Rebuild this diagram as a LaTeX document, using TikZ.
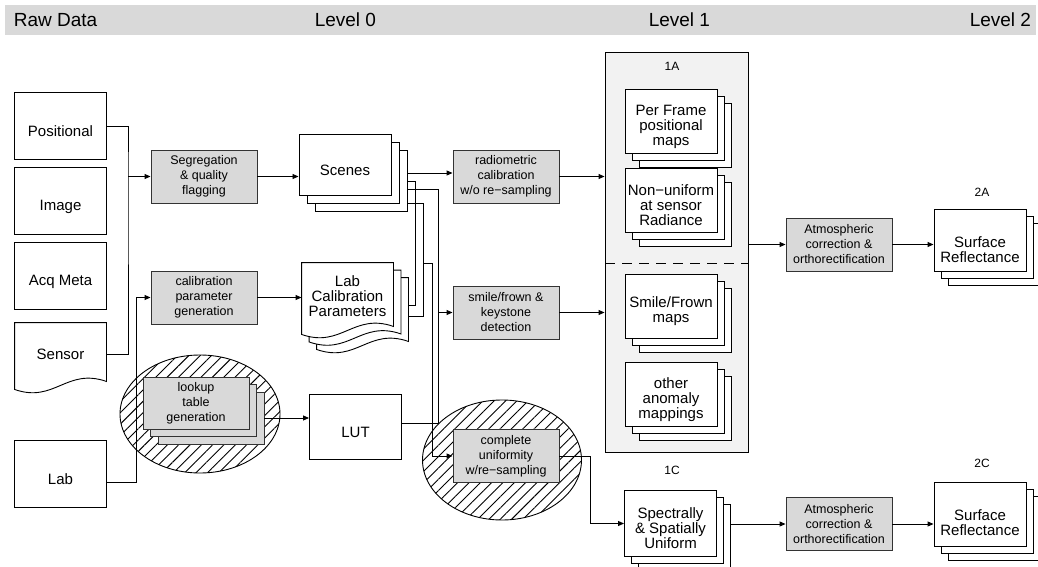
\documentclass[tikz,border=0pt]{standalone}
\usepackage{fontspec}
\setmainfont{Liberation Sans}
\usetikzlibrary{shapes.geometric,arrows.meta,patterns.meta,backgrounds}

\newcommand{\docoutline}[1]{%
  \draw[fill=white, line width=0.9pt] (#1.north west) -- (#1.north east) -- ([yshift=4pt]#1.south east)
    .. controls +(-40,-14) and +(40,14) .. ([yshift=-4pt]#1.south west) -- cycle;}

\begin{document}
\begin{tikzpicture}[x=1pt, y=-1pt, line width=0.9pt, >={Triangle[length=6pt,width=5pt]},
  every node/.style={font=\fontsize{15}{15}\selectfont, align=center}]
\tikzset{
  store/.style={cylinder, shape border rotate=90, aspect=0.2, draw, fill=white,
    minimum width=92, minimum height=64, inner sep=0pt},
  storetext/.style={yshift=-5pt, inner sep=0pt},
  proc/.style={rectangle, draw=black!80, fill=black!15, minimum width=106,
    minimum height=53, inner sep=1pt, font=\fontsize{12.5}{15}\selectfont},
  doc/.style={rectangle, minimum width=91, inner sep=1pt},
  hatch/.style={ellipse, draw, pattern={Lines[angle=45,distance=8pt,line width=0.9pt]}},
  hdr/.style={anchor=base west, font=\fontsize{19}{19}\selectfont},
  tag/.style={font=\fontsize{12}{12}\selectfont}
}
\useasboundingbox (0,0) rectangle (1038,567);
\fill[black!15] (5,5) rectangle (1036,35);
\node[hdr] (raw) at (10,27) {Raw Data};
\node[hdr] (lvl0) at (311,27) {Level 0};
\node[hdr] (lvl1) at (645,27) {Level 1};
\node[hdr] (lvl2) at (966,27) {Level 2};

\node[store, minimum height=67] (positional) at (60.5,126.5) {};
\node[storetext] (positionalT) at (positional) {Positional};
\node[store, minimum height=67] (image) at (60.5,201.5) {};
\node[storetext] (imageT) at (image) {Image};
\node[store, minimum height=67] (acqmeta) at (60.5,276.5) {};
\node[storetext] (acqmetaT) at (acqmeta) {Acq Meta};
\node[doc, minimum height=62] (sensor) at (60.5,354) {Sensor};
\node[store, minimum height=67] (lab) at (60.5,474.5) {};
\node[storetext] (labT) at (lab) {Lab};

\node[proc] (seg) at (204,176.5) {Segregation\\\& quality\\flagging};
\node[proc] (calgen) at (204,297.5) {calibration\\parameter\\generation};
\node[hatch, minimum width=160, minimum height=118] (lookupzone) at (200,414) {};
\node[proc, minimum height=52] (lookup2) at (211,418) {};
\node[proc, minimum height=52] (lookup1) at (203.5,410.5) {};
\node[proc, minimum height=52] (lookup) at (196,403) {lookup\\table\\generation};

\node[store, minimum height=61] (scenes2) at (361,181) {};
\node[store, minimum height=61] (scenes1) at (353,173) {};
\node[store, minimum height=61] (scenes) at (345,165) {};
\node[storetext] (scenesT) at (scenes) {Scenes};
\node[doc, minimum height=67] (labcal2) at (362.5,311.5) {};
\node[doc, minimum height=67] (labcal1) at (355,304) {};
\node[doc, minimum height=67] (labcal) at (347.5,296.5) {Lab\\Calibration\\Parameters};
\node[store, minimum height=65] (lut) at (355.5,427.5) {};
\node[storetext] (lutT) at (lut) {LUT};

\node[proc] (radio) at (506,176.5) {radiometric\\calibration\\w/o re−sampling};
\node[proc] (smilefd) at (506,312.5) {smile/frown \&\\keystone\\detection};
\node[hatch, minimum width=159, minimum height=120] (completezone) at (502,460) {};
\node[proc] (complete) at (506,456) {complete\\uniformity\\w/re−sampling};

\node[draw, fill=black!5, minimum width=143, minimum height=400, inner sep=0pt] (boxA) at (676.5,252) {};
\node[tag] (tagA) at (672,66) {1A};
\coordinate (divA) at (605,263);
\draw[dash pattern=on 10pt off 7pt] (divA) -- (divA -| boxA.east);
\node[store] (perframe2) at (685,135.5) {};
\node[store] (perframe1) at (678,128.5) {};
\node[store] (perframe) at (671,121.5) {};
\node[storetext] (perframeT) at (perframe) {Per Frame\\positional\\maps};
\node[store] (nonuni2) at (685,214.5) {};
\node[store] (nonuni1) at (678,207.5) {};
\node[store] (nonuni) at (671,200.5) {};
\node[storetext] (nonuniT) at (nonuni) {Non−uniform\\at sensor\\Radiance};
\node[store] (smile2) at (685,320.5) {};
\node[store] (smile1) at (678,313.5) {};
\node[store] (smile) at (671,306.5) {};
\node[storetext] (smileT) at (smile) {Smile/Frown\\maps};
\node[store] (other2) at (685,409) {};
\node[store] (other1) at (678,402) {};
\node[store] (other) at (671,395) {};
\node[storetext] (otherT) at (other) {other\\anomaly\\mappings};

\node[tag] (tagC) at (672,470) {1C};
\node[store, minimum height=66] (unif2) at (684.5,537.5) {};
\node[store, minimum height=66] (unif1) at (677.5,530.5) {};
\node[store, minimum height=66] (unif) at (670.5,523.5) {};
\node[storetext] (unifT) at (unif) {Spectrally\\\& Spatially\\Uniform};

\node[proc] (atmA) at (839,244.5) {Atmospheric\\correction \&\\orthorectification};
\node[proc] (atmC) at (839,524) {Atmospheric\\correction \&\\orthorectification};

\node[tag] (tagA2) at (982,192) {2A};
\node[store, minimum height=62] (refA2) at (994,255) {};
\node[store, minimum height=62] (refA1) at (987,248) {};
\node[store, minimum height=62] (refA) at (980,241) {};
\node[storetext] (refAT) at ([yshift=-4pt]refA.center) {Surface\\Reflectance};
\node[tag] (tagC2) at (982,463) {2C};
\node[store] (refC2) at (994,528.5) {};
\node[store] (refC1) at (987,521.5) {};
\node[store] (refC) at (980,514.5) {};
\node[storetext] (refCT) at ([yshift=-3pt]refC.center) {Surface\\Reflectance};

\begin{scope}[on background layer]
\docoutline{sensor}
\docoutline{labcal2}
\docoutline{labcal1}
\docoutline{labcal}
\end{scope}

\coordinate (rawbus) at (128,176.5);
\draw (positional.east) -| (rawbus) |- (sensor.east);
\draw[->] (rawbus) -- (seg.west);
\draw[->] ([yshift=-8pt]lab.east) -- ++(29,0) |- (calgen.west);
\draw[->] (seg.east) -- (seg.east -| scenes.west);
\draw[->] (calgen.east) -- (calgen.east -| labcal.west);
\draw[->] (lookup2.east) -- (lookup2.east -| lut.west);

\coordinate (s0) at ([yshift=8pt]scenes2.east);
\coordinate (s1) at (scenes2.east);
\coordinate (s2) at ([yshift=-8pt]scenes2.east);
\coordinate (s3) at ([yshift=-22pt]scenes2.east);
\coordinate (jA) at (415,305);
\coordinate (jB) at (438,423);
\coordinate (jC) at (423,316);
\coordinate (jD) at (432,263);
\draw[->] (s0) -- (s0 -| radio.west);
\draw (s1) -| (jA) -- (jA -| labcal2.east);
\draw (s2) -| (jB) -- (jB -| lut.east);
\draw (s3) -| (jC) -- (jC -| labcal2.east);
\draw[->] (jD -| jC) -- (jD) |- (complete.west);
\draw[->] (jB |- smilefd.west) -- (smilefd.west);

\draw[->] (radio.east) -- (radio.east -| boxA.west);
\draw[->] (smilefd.east) -- (smilefd.east -| boxA.west);
\draw[->] (boxA.east |- atmA.west) -- (atmA.west);
\draw[->] (atmA.east) -- (atmA.east -| refA.west);
\draw[->] (complete.east) -- ++(31,0) |- (unif.west);
\draw[->] (unif2.east |- atmC.west) -- (atmC.west);
\draw[->] (atmC.east) -- (atmC.east -| refC.west);
\end{tikzpicture}
\end{document}
